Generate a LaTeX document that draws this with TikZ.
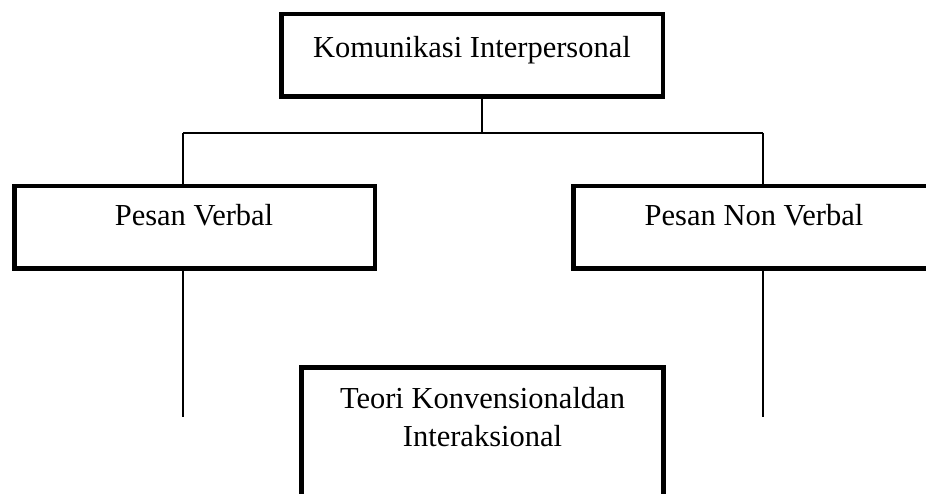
\documentclass[tikz,border=0pt]{standalone}
\usepackage{fontspec}
\setmainfont{Liberation Serif}
\begin{document}
\begin{tikzpicture}[x=1pt,y=-1pt,
  boxstyle/.style={draw, line width=4.5pt, inner sep=0pt, outer sep=0pt},
  labelstyle/.style={anchor=base, inner sep=0pt, font=\fontsize{30.5pt}{38pt}\selectfont},
  link/.style={line width=1.3pt}]
\clip (0,0) rectangle (926,494);
\fill[white] (0,0) rectangle (926,494);
% boxes
\node[boxstyle, minimum width=381.5pt, minimum height=82.5pt] (top) at (472,55.5) {};
\node[boxstyle, minimum width=360.5pt, minimum height=82.5pt] (left) at (194.5,227.5) {};
\node[boxstyle, minimum width=363.5pt, minimum height=82.5pt] (right) at (755,227.5) {};
\node[boxstyle, minimum width=362pt, minimum height=175pt] (bottom) at (482.5,455) {};
% connectors
\coordinate (j) at (482,133);
\coordinate (jl) at (183,133);
\coordinate (jr) at (763,133);
\coordinate (el) at (183,417);
\coordinate (er) at (763,417);
\draw[link] (top.south -| j) -- (j);
\draw[link] (jl) -- (jr);
\draw[link] (jl) -- (jl |- left.north);
\draw[link] (jr) -- (jr |- right.north);
\draw[link] (left.south -| el) -- (el);
\draw[link] (right.south -| er) -- (er);
% texts
\node[labelstyle] (t1) at (472,58) {Komunikasi Interpersonal};
\node[labelstyle] (t2) at (194,226) {Pesan Verbal};
\node[labelstyle] (t3) at (754,226) {Pesan Non Verbal};
\node[labelstyle] (t4) at (482.5,408) {Teori Konvensionaldan};
\node[labelstyle] (t5) at (482.5,446) {Interaksional};
\end{tikzpicture}
\end{document}
